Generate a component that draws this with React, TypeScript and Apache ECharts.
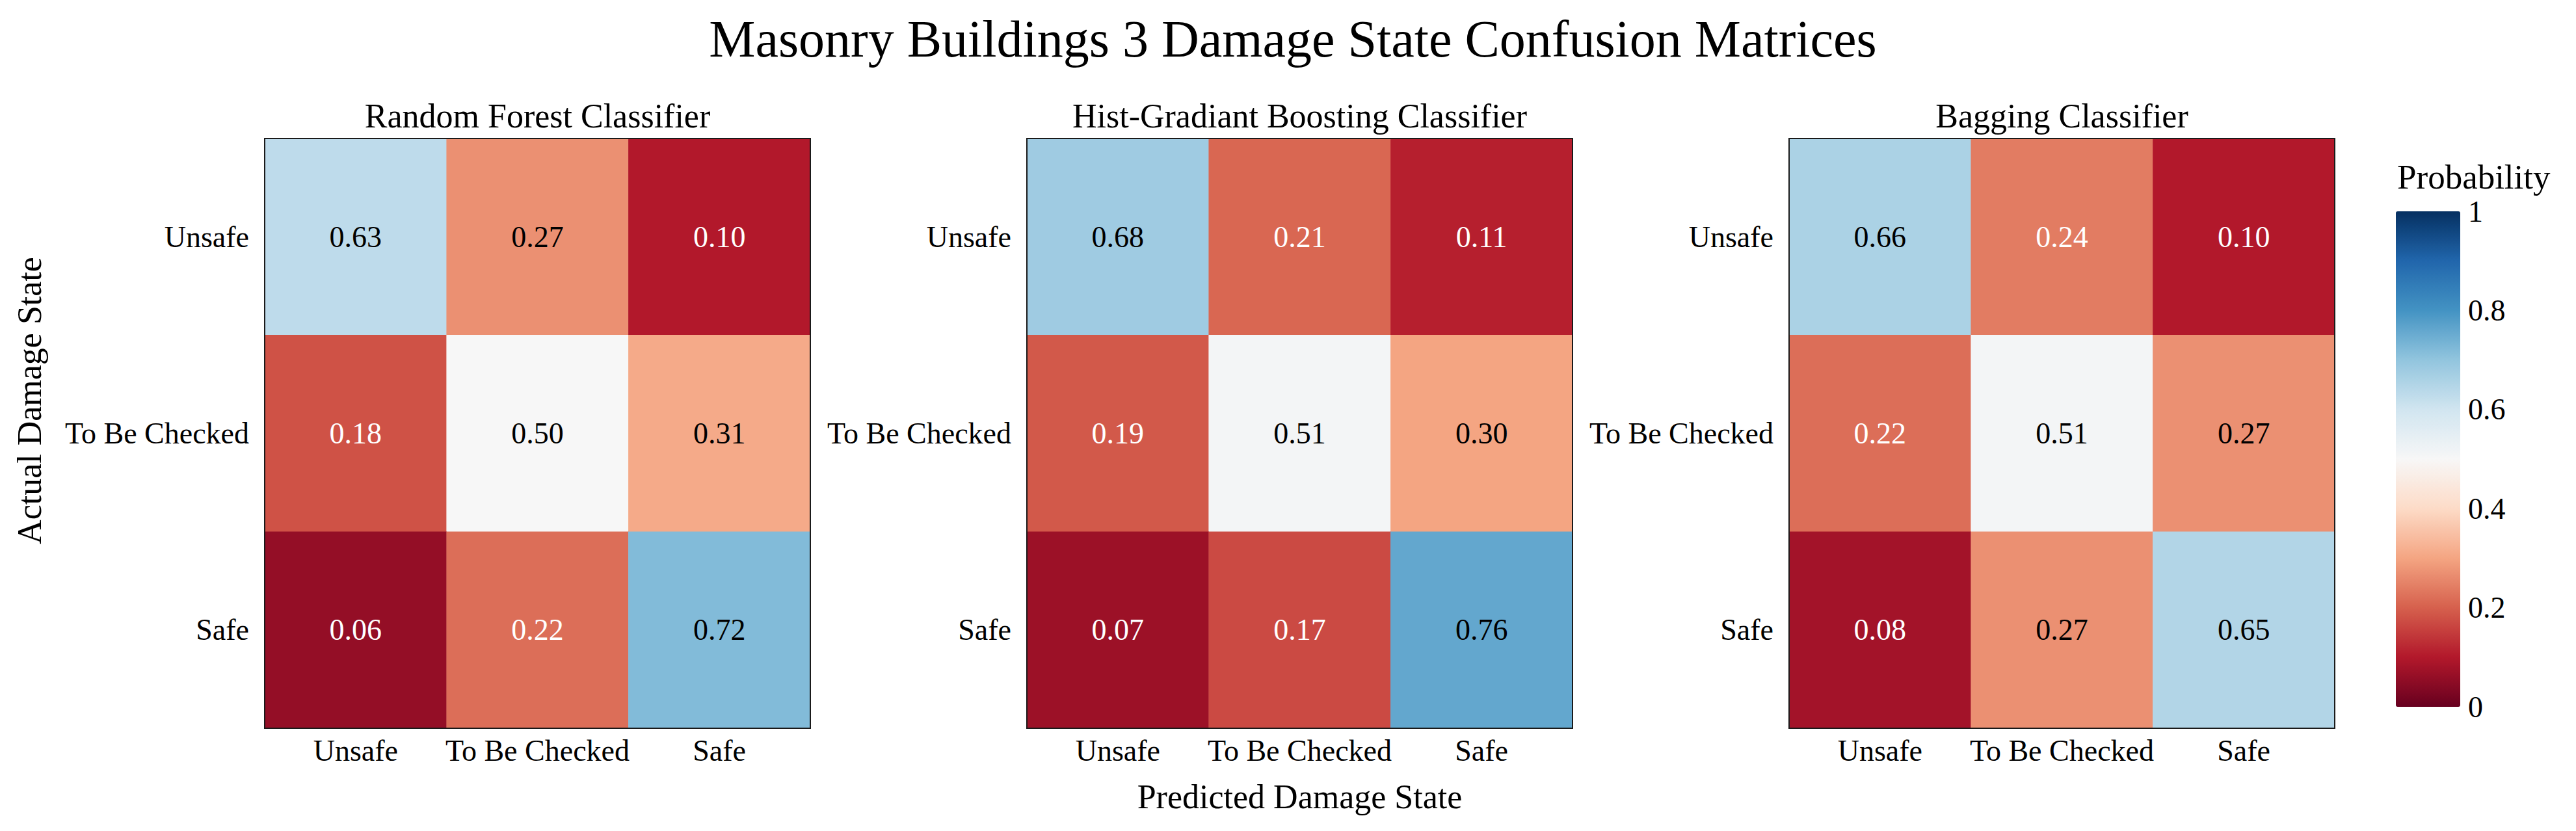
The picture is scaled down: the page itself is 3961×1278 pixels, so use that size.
import React, { useEffect, useRef } from "react";
import * as echarts from "echarts";

const FONT = '"Liberation Serif", "Times New Roman", serif';

const MAIN_TITLE = "Masonry Buildings 3 Damage State Confusion Matrices";
const X_LABEL = "Predicted Damage State";
const Y_LABEL = "Actual Damage State";
const CBAR_LABEL = "Probability";

const CLASSES = ["Unsafe", "To Be Checked", "Safe"];
const MODEL_NAMES = [
  "Random Forest Classifier",
  "Hist-Gradiant Boosting Classifier",
  "Bagging Classifier",
];

const RANDOM_FOREST = [
  [0.63, 0.27, 0.1],
  [0.18, 0.5, 0.31],
  [0.06, 0.22, 0.72],
];
const HIST_GRADIENT = [
  [0.68, 0.21, 0.11],
  [0.19, 0.51, 0.3],
  [0.07, 0.17, 0.76],
];
const BAGGING = [
  [0.66, 0.24, 0.1],
  [0.22, 0.51, 0.27],
  [0.08, 0.27, 0.65],
];
const MATRICES = [RANDOM_FOREST, HIST_GRADIENT, BAGGING];

const CBAR_TICKS = [0, 0.2, 0.4, 0.6, 0.8, 1];

const RDBU = [
  "#053061", "#2166ac", "#4393c3", "#92c5de", "#d1e5f0", "#f7f7f7",
  "#fddbc7", "#f4a582", "#d6604d", "#b2182b", "#67001f",
].reverse();

const WHITE_TEXT_BELOW = 0.25;

// layout
const GRID_LEFT0 = 407;
const GRID_STEP = 1172;
const GRID_TOP = 213;
const GRID_W = 839;
const GRID_H = 907;
const CB_LEFT = 3684;
const CB_TOP = 325;
const CB_W = 99;
const CB_H = 762;

export default function App() {
  const ref = useRef<HTMLDivElement>(null);
  useEffect(() => {
    if (!ref.current) return;
    const chart = echarts.init(ref.current, null, { renderer: "svg" });

    const grids: any[] = [];
    const xAxes: any[] = [];
    const yAxes: any[] = [];
    const series: any[] = [];
    const graphics: any[] = [];

    MATRICES.forEach((m, gi) => {
      const left = GRID_LEFT0 + gi * GRID_STEP;
      grids.push({
        left,
        top: GRID_TOP,
        width: GRID_W,
        height: GRID_H,
        show: true,
        z: 10,
        backgroundColor: "transparent",
        borderColor: "#1a1a1a",
        borderWidth: 2,
      });
      xAxes.push({
        type: "category",
        gridIndex: gi,
        data: CLASSES,
        position: "bottom",
        axisLine: { show: false },
        axisTick: { show: false },
        splitLine: { show: false },
        splitArea: { show: false },
        axisLabel: {
          fontSize: 46,
          lineHeight: 46,
          margin: 11,
          color: "#000",
          fontFamily: FONT,
          interval: 0,
        },
      });
      yAxes.push({
        type: "category",
        gridIndex: gi,
        data: CLASSES,
        inverse: true,
        axisLine: { show: false },
        axisTick: { show: false },
        splitLine: { show: false },
        splitArea: { show: false },
        axisLabel: {
          fontSize: 46,
          margin: 24,
          color: "#000",
          fontFamily: FONT,
          interval: 0,
        },
      });
      const data: any[] = [];
      m.forEach((row, r) =>
        row.forEach((v, c) => {
          data.push({
            value: [c, r, v],
            label: { color: v < WHITE_TEXT_BELOW ? "#ffffff" : "#000000" },
          });
        })
      );
      series.push({
        type: "heatmap",
        xAxisIndex: gi,
        yAxisIndex: gi,
        data,
        label: {
          show: true,
          fontSize: 46,
          fontFamily: FONT,
          formatter: (p: any) => p.value[2].toFixed(2),
        },
        itemStyle: { borderWidth: 0 },
        emphasis: { disabled: true },
      });
      graphics.push({
        type: "text",
        x: left + GRID_W / 2,
        y: 178,
        style: {
          text: MODEL_NAMES[gi],
          fontSize: 52,
          fontFamily: FONT,
          fill: "#000",
          align: "center",
          verticalAlign: "middle",
          textAlign: "center",
          textVerticalAlign: "middle",
        },
      });
    });

    // colorbar tick axis
    grids.push({ left: CB_LEFT, top: CB_TOP, width: CB_W, height: CB_H, show: false });
    xAxes.push({ type: "value", gridIndex: 3, show: false, min: 0, max: 1 });
    yAxes.push({
      type: "value",
      gridIndex: 3,
      min: 0,
      max: 1,
      interval: 0.2,
      position: "right",
      axisLine: { show: false },
      axisTick: { show: false },
      splitLine: { show: false },
      axisLabel: {
        fontSize: 46,
        margin: 12,
        color: "#000",
        fontFamily: FONT,
        showMinLabel: true,
        showMaxLabel: true,
        formatter: (v: number) => {
          const t = CBAR_TICKS.find((k) => Math.abs(k - v) < 1e-6);
          if (t === undefined) return "";
          return t === 0 ? "0" : t === 1 ? "1" : t.toFixed(1);
        },
      },
    });

    graphics.push(
      {
        type: "text",
        x: 1988,
        y: 60,
        style: {
          text: MAIN_TITLE,
          fontSize: 80,
          fontFamily: FONT,
          fill: "#000",
          align: "center",
          verticalAlign: "middle",
          textAlign: "center",
          textVerticalAlign: "middle",
        },
      },
      {
        type: "text",
        x: GRID_LEFT0 + GRID_STEP + GRID_W / 2,
        y: 1225,
        style: {
          text: X_LABEL,
          fontSize: 52,
          fontFamily: FONT,
          fill: "#000",
          align: "center",
          verticalAlign: "middle",
          textAlign: "center",
          textVerticalAlign: "middle",
        },
      },
      {
        type: "text",
        x: 45,
        y: 616,
        rotation: Math.PI / 2,
        style: {
          text: Y_LABEL,
          fontSize: 52,
          fontFamily: FONT,
          fill: "#000",
          align: "center",
          verticalAlign: "middle",
          textAlign: "center",
          textVerticalAlign: "middle",
        },
      },
      {
        type: "text",
        x: 3686,
        y: 272,
        style: {
          text: CBAR_LABEL,
          fontSize: 53,
          fontFamily: FONT,
          fill: "#000",
          align: "left",
          verticalAlign: "middle",
          textAlign: "left",
          textVerticalAlign: "middle",
        },
      }
    );

    chart.setOption({
      animation: false,
      backgroundColor: "#ffffff",
      textStyle: { fontFamily: FONT },
      grid: grids,
      xAxis: xAxes,
      yAxis: yAxes,
      visualMap: {
        type: "continuous",
        min: 0,
        max: 1,
        seriesIndex: [0, 1, 2],
        calculable: false,
        hoverLink: false,
        orient: "vertical",
        left: CB_LEFT,
        top: CB_TOP,
        padding: 0,
        itemWidth: CB_W,
        itemHeight: CB_H,
        text: null,
        showLabel: false,
        inRange: { color: RDBU },
      },
      series,
      graphic: graphics,
    });

    return () => chart.dispose();
  }, []);

  return (
    <div
      ref={ref}
      style={{ position: "fixed", left: 0, top: 0, width: 3961, height: 1278 }}
    />
  );
}
